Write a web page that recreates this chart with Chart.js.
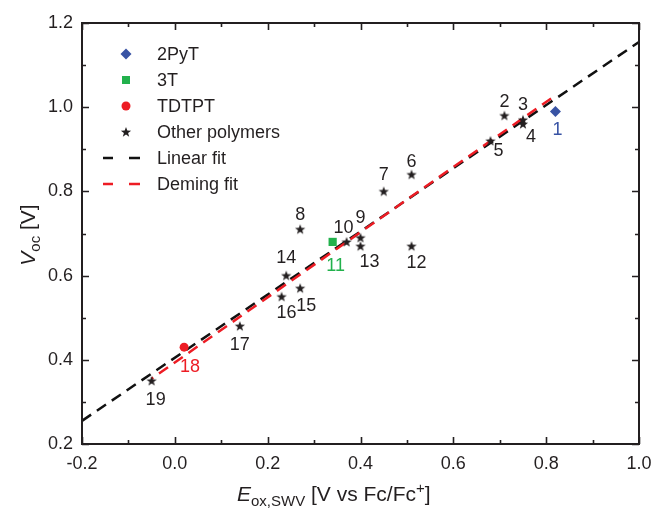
<!DOCTYPE html>
<html lang="en">
<head>
<meta charset="UTF-8">
<title>Voc vs Eox</title>
<script src="https://cdn.jsdelivr.net/npm/chart.js"></script>
<style>
    body { margin: 0; background: #fff; }
    #wrap { width: 654px; height: 510px; }
</style>
</head>
<body>
<div id="wrap"><canvas id="chart" width="654" height="510"></canvas></div>
<script>
// values
const pytX = [0.82];
const pytY = [0.99];
const pytNums = ['1'];

const t3X = [0.34];
const t3Y = [0.68];
const t3Nums = ['11'];

const tdtptX = [0.02];
const tdtptY = [0.43];
const tdtptNums = ['18'];

const polyX = [0.71, 0.75, 0.75, 0.68, 0.51, 0.45, 0.27, 0.40, 0.37, 0.51, 0.40, 0.24, 0.27, 0.23, 0.14, -0.05];
const polyY = [0.98, 0.97, 0.96, 0.92, 0.84, 0.80, 0.71, 0.69, 0.68, 0.67, 0.67, 0.60, 0.57, 0.55, 0.48, 0.35];
const polyNums = ['2', '3', '4', '5', '6', '7', '8', '9', '10', '12', '13', '14', '15', '16', '17', '19'];

// fit lines (end points)
const linFitX = [-0.2, 1.0];
const linFitY = [0.255, 1.155];
const demFitX = [-0.05, 0.82];
const demFitY = [0.355, 1.028];

const xTicks = [-0.2, 0.0, 0.2, 0.4, 0.6, 0.8, 1.0];
const yTicks = [0.2, 0.4, 0.6, 0.8, 1.0, 1.2];

// label placement (pixels, relative to the point)
const labelOffsets = {
    '1': [2, 19], '2': [0, -14], '3': [0, -15], '4': [8, 13], '5': [8, 10],
    '6': [0, -13], '7': [0, -16], '8': [0, -14], '9': [0, -20], '10': [-3, -14],
    '11': [3, 24], '12': [5, 17], '13': [9, 16], '14': [0, -18], '15': [6, 18],
    '16': [5, 16], '17': [0, 19], '18': [6, 20], '19': [4, 19]
};

const INK = '#231f20';
const BLUE = '#3853a4';
const GREEN = '#22b14c';
const RED = '#ed1c24';
const FONT = '"Liberation Sans", Arial, sans-serif';

function pts(xs, ys) {
    return xs.map((x, i) => ({ x: x, y: ys[i] }));
}

function starPath(ctx, cx, cy, ro, ri) {
    ctx.beginPath();
    for (let i = 0; i < 10; i++) {
        const r = i % 2 === 0 ? ro : ri;
        const a = -Math.PI / 2 + i * Math.PI / 5;
        const px = cx + r * Math.cos(a), py = cy + r * Math.sin(a);
        if (i === 0) ctx.moveTo(px, py); else ctx.lineTo(px, py);
    }
    ctx.closePath();
}

// filled star image for the point style
const starImg = document.createElement('canvas');
starImg.width = 12;
starImg.height = 12;
(function () {
    const c = starImg.getContext('2d');
    c.fillStyle = INK;
    starPath(c, 6, 6.4, 5.4, 2.2);
    c.fill();
})();

// frame with inward ticks on all four sides
const framePlugin = {
    id: 'frame',
    afterDatasetsDraw(chart) {
        const { ctx, chartArea: a, scales } = chart;
        const sx = scales.x, sy = scales.y;
        ctx.save();
        ctx.strokeStyle = INK;
        ctx.lineWidth = 2;
        ctx.strokeRect(a.left, a.top, a.right - a.left, a.bottom - a.top);
        ctx.lineWidth = 1.6;
        ctx.beginPath();
        for (let i = -2; i <= 10; i++) {
            const v = i / 10;
            const len = i % 2 === 0 ? 7 : 4;
            const px = Math.round(sx.getPixelForValue(v)) + 0.5;
            ctx.moveTo(px, a.bottom); ctx.lineTo(px, a.bottom - len);
            ctx.moveTo(px, a.top); ctx.lineTo(px, a.top + len);
        }
        for (let i = 2; i <= 12; i++) {
            const v = i / 10;
            const len = i % 2 === 0 ? 7 : 4;
            const py = Math.round(sy.getPixelForValue(v)) + 0.5;
            ctx.moveTo(a.left, py); ctx.lineTo(a.left + len, py);
            ctx.moveTo(a.right, py); ctx.lineTo(a.right - len, py);
        }
        ctx.stroke();
        ctx.restore();
    }
};

// number labels next to the points
const numberPlugin = {
    id: 'numbers',
    afterDatasetsDraw(chart) {
        const { ctx } = chart;
        ctx.save();
        ctx.font = '18px ' + FONT;
        ctx.textAlign = 'center';
        ctx.textBaseline = 'middle';
        chart.data.datasets.forEach((ds, di) => {
            if (!ds.nums) return;
            const meta = chart.getDatasetMeta(di);
            meta.data.forEach((el, i) => {
                const n = ds.nums[i];
                const off = labelOffsets[n] || [0, -14];
                ctx.fillStyle = ds.numColor;
                ctx.fillText(n, el.x + off[0], el.y + off[1]);
            });
        });
        ctx.restore();
    }
};

function richWidth(ctx, parts) {
    let w = 0;
    parts.forEach(p => { ctx.font = p.font; w += ctx.measureText(p.t).width; });
    return w;
}
function drawRich(ctx, parts, x, y) {
    parts.forEach(p => {
        ctx.font = p.font;
        ctx.fillText(p.t, x, y + (p.dy || 0));
        x += ctx.measureText(p.t).width;
    });
}

// legend and axis titles
const annotPlugin = {
    id: 'annot',
    afterDraw(chart) {
        const { ctx, chartArea: a } = chart;
        ctx.save();
        ctx.fillStyle = INK;
        ctx.textBaseline = 'alphabetic';

        const big = '21px ' + FONT, it = 'italic 21px ' + FONT, small = '15px ' + FONT;
        const xParts = [
            { t: 'E', font: it }, { t: 'ox,SWV', font: small, dy: 5 },
            { t: ' [V vs Fc/Fc', font: big }, { t: '+', font: small, dy: -8 }, { t: ']', font: big }
        ];
        drawRich(ctx, xParts, 237, 501);

        const yParts = [
            { t: 'V', font: it }, { t: 'oc', font: small, dy: 5 }, { t: ' [V]', font: big }
        ];
        const yw = richWidth(ctx, yParts);
        ctx.translate(35, 235);
        ctx.rotate(-Math.PI / 2);
        drawRich(ctx, yParts, -yw / 2, 0);
        ctx.setTransform(1, 0, 0, 1, 0, 0);

        // legend
        const mx = 126, tx = 157;
        const rows = [54, 80, 106, 132, 158, 184];
        ctx.font = '18px ' + FONT;
        ctx.textBaseline = 'middle';
        ['2PyT', '3T', 'TDTPT', 'Other polymers', 'Linear fit', 'Deming fit'].forEach((t, i) => {
            ctx.fillStyle = INK;
            ctx.fillText(t, tx, rows[i] + 1);
        });
        // diamond
        ctx.fillStyle = BLUE;
        ctx.beginPath();
        ctx.moveTo(mx, rows[0] - 5.5); ctx.lineTo(mx + 5.5, rows[0]);
        ctx.lineTo(mx, rows[0] + 5.5); ctx.lineTo(mx - 5.5, rows[0]);
        ctx.closePath(); ctx.fill();
        // square
        ctx.fillStyle = GREEN;
        ctx.fillRect(mx - 4, rows[1] - 4, 8, 8);
        // circle
        ctx.fillStyle = RED;
        ctx.beginPath(); ctx.arc(mx, rows[2], 4.5, 0, Math.PI * 2); ctx.fill();
        // star
        ctx.fillStyle = INK;
        starPath(ctx, mx, rows[3] + 0.4, 5.4, 2.2); ctx.fill();
        // dashed lines
        ctx.lineWidth = 2.5;
        [[rows[4], '#111'], [rows[5], RED]].forEach(([ry, col]) => {
            ctx.strokeStyle = col;
            ctx.beginPath();
            ctx.moveTo(103, ry); ctx.lineTo(113, ry);
            ctx.moveTo(129, ry); ctx.lineTo(140, ry);
            ctx.stroke();
        });
        ctx.restore();
    }
};

const ctx = document.getElementById('chart').getContext('2d');
const chart = new Chart(ctx, {
    type: 'scatter',
    data: {
        datasets: [
            {
                label: '2PyT', data: pts(pytX, pytY), nums: pytNums, numColor: BLUE,
                pointStyle: 'rectRot', pointRadius: 5.5, backgroundColor: BLUE, borderWidth: 0, order: 0
            },
            {
                label: '3T', data: pts(t3X, t3Y), nums: t3Nums, numColor: GREEN,
                pointStyle: 'rect', pointRadius: 5.8, backgroundColor: GREEN, borderWidth: 0, order: 0
            },
            {
                label: 'TDTPT', data: pts(tdtptX, tdtptY), nums: tdtptNums, numColor: RED,
                pointStyle: 'circle', pointRadius: 4.5, backgroundColor: RED, borderWidth: 0, order: 0
            },
            {
                label: 'Other polymers', data: pts(polyX, polyY), nums: polyNums, numColor: INK,
                pointStyle: starImg, pointRadius: 5, order: 0
            },
            {
                type: 'line', label: 'Deming fit', data: pts(demFitX, demFitY),
                borderColor: RED, borderWidth: 2.5, borderDash: [11, 7], borderDashOffset: 9,
                pointRadius: 0, fill: false, order: 1
            },
            {
                type: 'line', label: 'Linear fit', data: pts(linFitX, linFitY),
                borderColor: '#111', borderWidth: 2.5, borderDash: [11, 7],
                pointRadius: 0, fill: false, order: 2
            }
        ]
    },
    options: {
        responsive: false,
        animation: false,
        layout: { padding: { top: 23, right: 15, left: 0, bottom: 0 } },
        plugins: {
            legend: { display: false },
            tooltip: { enabled: false }
        },
        scales: {
            x: {
                type: 'linear', min: -0.2, max: 1.0,
                afterBuildTicks: s => { s.ticks = xTicks.map(v => ({ value: v })); },
                afterFit: s => { s.height = 66; s.paddingLeft = 0; s.paddingRight = 0; },
                grid: { display: false, drawTicks: false },
                border: { display: false },
                ticks: {
                    padding: 9, color: INK, font: { family: FONT, size: 18 },
                    callback: v => v.toFixed(1)
                }
            },
            y: {
                type: 'linear', min: 0.2, max: 1.2,
                afterBuildTicks: s => { s.ticks = yTicks.map(v => ({ value: v })); },
                afterFit: s => { s.width = 82; s.paddingTop = 0; s.paddingBottom = 0; },
                grid: { display: false, drawTicks: false },
                border: { display: false },
                ticks: {
                    padding: 9, color: INK, font: { family: FONT, size: 18 },
                    callback: v => v.toFixed(1)
                }
            }
        }
    },
    plugins: [framePlugin, numberPlugin, annotPlugin]
});
</script>
</body>
</html>
